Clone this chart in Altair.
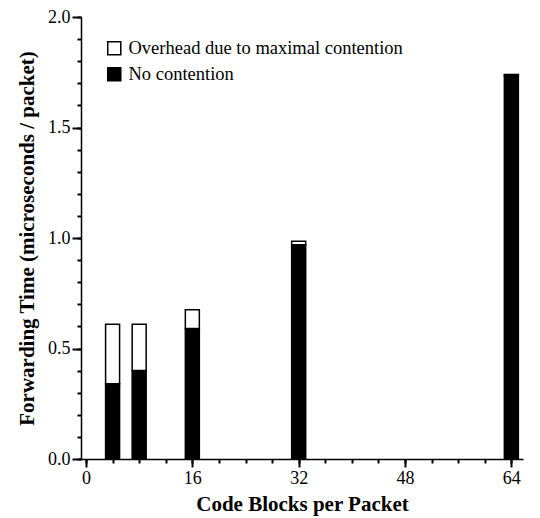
import altair as alt
import pandas as pd

blocks = [4, 8, 16, 32, 64]
no_contention = [0.34, 0.40, 0.59, 0.97, 1.735]
total = [0.61, 0.61, 0.675, 0.985, 1.74]
series = ["Overhead due to maximal contention", "No contention"]

rows = []
for b, n, t in zip(blocks, no_contention, total):
    rows.append({"blocks": b, "y0": 0.0, "y1": n, "series": series[1]})
    rows.append({"blocks": b, "y0": n, "y1": t, "series": series[0]})
df = pd.DataFrame(rows)

x_major = [0, 16, 32, 48, 64]
x_minor = list(range(0, 65, 4))
y_major = [0.0, 0.5, 1.0, 1.5, 2.0]
y_minor = [i / 10 for i in range(21)]

font = "Liberation Serif"
xs = alt.Scale(domain=[0, 65], nice=False, zero=True)
ys = alt.Scale(domain=[0, 2], nice=False)

bars = alt.Chart(df).mark_bar(size=14, stroke="black", strokeWidth=1.5).encode(
    x=alt.X("blocks:Q", scale=xs,
            axis=alt.Axis(values=x_major, title="Code Blocks per Packet", orient="bottom",
                          ticks=True, tickColor="black", tickWidth=2, tickOpacity=1,
                          tickSize=8, grid=False, labelPadding=2, titlePadding=6,
                          labelFontSize=18, titleFontSize=21)),
    y=alt.Y("y0:Q", scale=ys,
            axis=alt.Axis(values=y_major, title="Forwarding Time (microseconds / packet)", orient="left",
                          ticks=True, tickColor="black", tickWidth=2, tickOpacity=1,
                          format=".1f", tickSize=9, grid=False, labelPadding=2, titlePadding=10,
                          labelFontSize=18, titleFontSize=21)),
    y2="y1:Q",
    color=alt.Color("series:N",
                    scale=alt.Scale(domain=series, range=["white", "black"]),
                    legend=alt.Legend(title=None, orient="none", legendX=24, legendY=22,
                                      symbolType="square", symbolSize=170, symbolStrokeColor="black",
                                      symbolStrokeWidth=1.5, labelFontSize=18.5, labelFont=font,
                                      labelLimit=0, labelOffset=5, rowPadding=6, symbolOpacity=1)),
    order=alt.Order("y0:Q"),
)

minor = alt.Chart(df).mark_point(opacity=0).encode(
    x=alt.X("blocks:Q", scale=xs,
            axis=alt.Axis(values=x_minor, labels=False, domain=False, title=None, orient="bottom",
                          ticks=True, tickColor="black", tickWidth=2, tickOpacity=1,
                          tickSize=4, grid=False)),
    y=alt.Y("y1:Q", scale=ys,
            axis=alt.Axis(values=y_minor, labels=False, domain=False, title=None, orient="left",
                          ticks=True, tickColor="black", tickWidth=2, tickOpacity=1,
                          tickSize=4, grid=False)),
)

chart = alt.layer(bars, minor).resolve_axis(x="independent", y="independent").properties(
    width=442, height=442, padding={"left": 8, "top": 0, "right": 5, "bottom": 5}
).configure_axis(
    labelFont=font, titleFont=font, titleFontWeight="bold",
    labelColor="black", titleColor="black", domainColor="black",
    domainWidth=1.5,
).configure_view(stroke=None).configure_legend(labelColor="black")

chart.save("out.html", embed_options={"renderer": "svg", "actions": False})
